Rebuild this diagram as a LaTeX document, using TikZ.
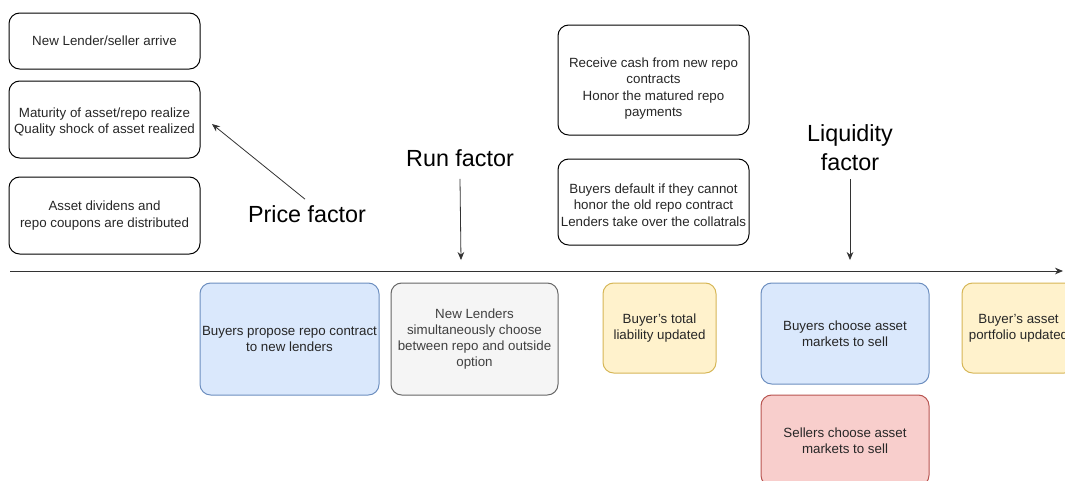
\documentclass[tikz,border=0pt]{standalone}
\usepackage{fontspec}
\setmainfont{Liberation Sans}
\usepackage{xcolor}
\usepackage{tikz}
\usetikzlibrary{arrows.meta}
\definecolor{bluefill}{HTML}{DAE8FC}
\definecolor{blueline}{HTML}{6C8EBF}
\definecolor{grayfill}{HTML}{F5F5F5}
\definecolor{grayline}{HTML}{666666}
\definecolor{yellowfill}{HTML}{FFF2CC}
\definecolor{yellowline}{HTML}{D6B656}
\definecolor{redfill}{HTML}{F8CECC}
\definecolor{redline}{HTML}{B85450}

\begin{document}
\begin{tikzpicture}[x=0.75pt,y=-0.75pt]
\tikzstyle{stage}=[rectangle, rounded corners=8pt, draw, line width=0.75pt, align=center, inner sep=0pt, font=\fontsize{10}{12.2}\selectfont, text=black!85]
\tikzstyle{factor}=[align=center, inner sep=0pt, font=\fontsize{17.5}{21.75}\selectfont]
\tikzstyle{pointer}=[-{Stealth[length=6pt,width=5pt]}, line width=0.6pt, black!80]
\useasboundingbox (0,0) rectangle (1065,480);
\clip (0,0) rectangle (1065,480);

\node[stage, minimum width=143.25pt, minimum height=42pt] (arrive) at (104.5,41) {New Lender/seller arrive};
\node[stage, minimum width=143.25pt, minimum height=57.75pt] (mature) at (104.5,119.5) {\rule{0pt}{11pt}Maturity of asset/repo realize\\Quality shock of asset realized};
\node[stage, minimum width=143.25pt, minimum height=57.75pt] (divid) at (104.5,215.5) {Asset dividens and\\repo coupons are distributed};
\node[stage, minimum width=143.25pt, minimum height=82.5pt] (cash) at (653.5,80) {\rule{0pt}{20pt}Receive cash from new repo\\contracts\\Honor the matured repo\\payments};
\node[stage, minimum width=143.25pt, minimum height=64.5pt] (default) at (653.5,202) {\rule{0pt}{12pt}Buyers default if they cannot\\honor the old repo contract\\Lenders take over the collatrals};

\node[factor] (price) at (307,214) {Price factor};
\node[factor] (run) at (460,158) {Run factor};
\node[factor] (liquid) at (850,147.5) {Liquidity\\factor};

\coordinate (tstart) at (10,271);
\coordinate (tend) at (1063,271);
\coordinate (pricetip) at (212,124);
\coordinate (runtip) at (461,260);
\coordinate (liquidtip) at (850,260);

\draw[pointer] (tstart) -- (tend);
\draw[pointer] ([shift={(-2,-6)}]price.north) -- (pricetip);
\draw[pointer] ([yshift=-9pt]run.south) -- (runtip);
\draw[pointer] ([yshift=-6pt]liquid.south) -- (liquidtip);

\node[stage, fill=bluefill, draw=blueline, minimum width=134.25pt, minimum height=84pt] (propose) at (289.5,339) {Buyers propose repo contract\\to new lenders};
\node[stage, fill=grayfill, draw=grayline, text=black!75, minimum width=125.25pt, minimum height=84pt] (choose) at (474.5,339) {New Lenders\\simultaneously choose\\between repo and outside\\option};
\node[stage, fill=yellowfill, draw=yellowline, minimum width=84.75pt, minimum height=67.5pt] (liab) at (659.5,328) {Buyer's total\\liability updated};
\node[stage, fill=bluefill, draw=blueline, minimum width=126pt, minimum height=75.75pt] (bsell) at (845,333.5) {Buyers choose asset\\markets to sell};
\node[stage, fill=redfill, draw=redline, minimum width=126pt, minimum height=68.25pt] (ssell) at (845,440.5) {Sellers choose asset\\markets to sell};
\node[stage, fill=yellowfill, draw=yellowline, minimum width=84.75pt, minimum height=67.5pt] (port) at (1018.5,328) {Buyer's asset\\portfolio updated};
\end{tikzpicture}
\end{document}
